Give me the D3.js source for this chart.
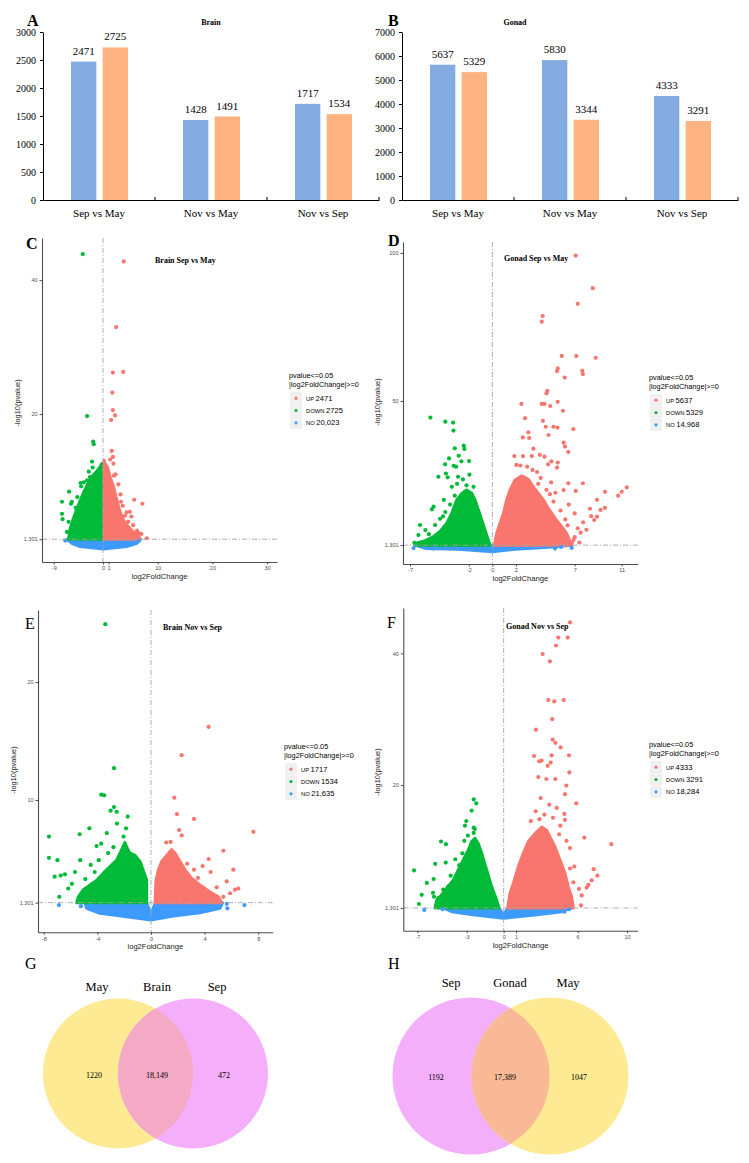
<!DOCTYPE html>
<html>
<head>
<meta charset="utf-8">
<script src="https://cdn.jsdelivr.net/npm/d3@7"></script>
<style>
  body { margin: 0; background: #fff; }
</style>
</head>
<body>
<div id="vis"></div>
<script>
// ---- bar chart data (A, B) ----
const barCategories = ["Sep vs May", "Nov vs May", "Nov vs Sep"];
const barSeries = ["up", "down"];
const brainUp = [2471, 1428, 1717];
const brainDown = [2725, 1491, 1534];
const gonadUp = [5637, 5830, 4333];
const gonadDown = [5329, 3344, 3291];
const brainTicks = [0, 500, 1000, 1500, 2000, 2500, 3000];
const gonadTicks = [0, 1000, 2000, 3000, 4000, 5000, 6000, 7000];

// ---- volcano C: Brain Sep vs May ----
const cXTicks = [-9, 0, 1, 10, 20, 30];
const cYTicks = [1.301, 20, 40];
const cCounts = ["2471", "2725", "20,023"];
const cUpPts = [[3.8,42.8],[2.4,33],[1.8,26.2],[3.7,26.3],[1.7,23.2],[1.8,20.6],[2.2,19.8],[1.5,19.1],[1.6,14.5],[1.8,13.6],[1.3,13.2],[1.9,12.6],[5.7,7.2],[7.2,6.6],[4.9,5.4],[4.3,5.3],[5.2,4.7],[4.6,3.9],[5.5,3.4],[6.2,2.6],[8.0,1.45],[6.5,2.2],[3.2,8.0],[2.8,9.5],[3.6,6.3],[7.0,2.1],[5.9,2.0],[2.3,11.0],[2.0,10.8],[3.3,6.9],[4.0,4.8]];
const cDownPts = [[-3.7,43.9],[-2.9,19.7],[-1.8,15.9],[-1.7,15.5],[-2.0,12.9],[-1.9,12.0],[-7.5,6.9],[-7.5,5.1],[-7.4,4.3],[-6.2,8.4],[-5.7,6.9],[-5.85,6.6],[-4.7,7.6],[-4.0,9.2],[-4.1,9.7],[-3.3,7.2],[-3.1,7.4],[-2.9,10.1],[-2.6,11.4],[-2.4,10.6],[-6.3,3.9],[-4.8,3.7],[-4.2,3.4],[-5.0,6.0],[-6.6,2.4],[-3.5,9.8]];
const cNoPts = [[-6.9,1.1],[6.6,1.1]];
const cUpCloud = [[0.2,1.301],[0.2,13.1],[0.37,12.6],[0.8,12.1],[1.3,10.6],[1.9,9.2],[2.5,7.2],[3.1,5.4],[3.7,4.2],[4.6,3.2],[5.5,2.4],[6.5,1.9],[6.8,1.301]];
const cDownCloud = [[-6.3,1.301],[-6.0,2.9],[-5.3,4.7],[-4.5,6.4],[-3.6,8.2],[-2.9,9.4],[-2.1,10.6],[-1.2,11.4],[-0.55,12.1],[-0.25,12.6],[-0.2,1.301]];
const cNoCloud = [[-6.6,1.301],[6.8,1.301],[6.2,0.7],[4.3,0.2],[0.06,-0.15],[-4.2,0.2],[-5.7,0.7]];

// ---- volcano D: Gonad Sep vs May ----
const dXTicks = [-7, -2, 0, 2, 7, 11];
const dYTicks = [1.301, 50, 100];
const dCounts = ["5637", "5329", "14,968"];
const dUpPts = [[7.09,99.1],[8.54,88.1],[7.26,82.8],[4.28,78.7],[4.2,76.8],[5.9,65.2],[7.14,65.2],[8.79,64.6],[5.56,61.0],[5.5,60.1],[7.65,60.2],[7.7,59.1],[6.15,57.9],[4.68,53.4],[4.6,52.6],[2.47,49.0],[4.2,49.0],[4.43,49.0],[4.92,48.3],[5.56,49.7],[6.0,46.7],[2.78,44.2],[4.3,43.3],[4.54,41.3],[5.19,41.3],[5.53,41.0],[6.89,40.5],[3.06,39.4],[4.77,38.5],[2.59,37.7],[3.13,37.5],[6.06,35.9],[6.18,34.6],[6.46,32.8],[3.49,33.9],[4.03,31.8],[4.43,31.2],[1.87,31.4],[2.61,31.4],[3.35,31.4],[5.02,29.6],[5.56,29.2],[2.04,28.4],[2.38,28.2],[4.74,28.6],[5.5,27.5],[2.96,27.8],[3.41,26.7],[7.7,22.2],[6.46,22.2],[9.58,19.3],[11.43,20.8],[11.0,19.3],[10.7,18.0],[8.9,16.6],[9.58,13.9],[9.2,13.2],[8.3,13.6],[8.9,10.9],[8.66,9.8],[8.4,11.1],[7.72,9.0],[7.26,7.0],[6.75,1.9],[7.09,19.6],[6.06,19.9],[5.36,19.0],[4.1,24.0],[5.0,22.5],[3.8,26.0],[6.5,15.0],[7.0,12.0],[6.2,10.0],[7.5,5.5],[8.0,6.5],[4.6,20.0],[5.2,16.0],[5.8,13.0],[6.4,8.0],[7.0,4.0],[3.9,22.0],[4.9,18.5],[6.9,3.0],[7.4,2.2]];
const dDownPts = [[-5.27,44.4],[-4.0,43.0],[-3.34,42.7],[-3.31,40.0],[-2.43,34.9],[-2.38,33.8],[-3.2,34.0],[-3.68,30.6],[-2.86,31.5],[-2.63,29.6],[-1.98,29.7],[-4.02,28.6],[-3.29,28.1],[-3.09,27.8],[-4.59,24.4],[-3.95,25.5],[-3.8,24.2],[-2.92,24.4],[-2.5,23.5],[-1.95,25.1],[-3.45,21.0],[-4.13,16.6],[-5.0,14.3],[-5.14,13.4],[-6.15,8.1],[-4.87,8.1],[-5.7,6.4],[-6.29,4.7],[-6.63,2.1],[-5.4,5.0],[-4.45,10.2],[-3.0,22.0],[-2.2,21.5],[-4.0,12.5],[-3.6,15.0],[-4.2,11.0],[-1.6,21.0],[-3.2,18.0]];
const dNoPts = [[-6.7,0.3],[-5.0,0.2],[5.33,0.2],[5.85,0.7],[6.75,0.4]];
const dUpCloud = [[0.17,1.301],[0.37,5.3],[0.65,8.7],[0.94,12.1],[1.22,16.6],[1.5,19.9],[1.93,23.3],[2.5,24.7],[3.06,23.5],[3.49,21.0],[3.91,18.8],[4.34,16.6],[4.76,13.7],[5.33,10.4],[5.9,7.5],[6.32,5.3],[6.6,2.5],[6.75,1.301]];
const dDownCloud = [[-0.2,1.301],[-0.34,3.0],[-0.9,9.8],[-1.47,16.6],[-1.75,18.8],[-2.18,19.9],[-2.6,18.8],[-3.03,16.6],[-3.45,12.1],[-3.88,8.7],[-4.45,5.9],[-5.0,4.2],[-5.7,2.8],[-6.57,1.9],[-6.6,1.301]];
const dNoCloud = [[-6.57,1.301],[6.75,1.301],[4.76,0.6],[1.93,-0.1],[0,-0.9],[-2.92,-0.1],[-5.7,0.2]];

// ---- volcano E: Brain Nov vs Sep ----
const eXTicks = [-8, -4, 0, 4, 8];
const eYTicks = [1.301, 10, 20];
const eCounts = ["1717", "1534", "21,635"];
const eUpPts = [[4.3,16.2],[2.29,13.8],[1.74,10.2],[1.94,8.8],[3.21,8.4],[7.64,7.3],[2.1,7.45],[2.29,7.0],[1.47,6.45],[1.14,6.4],[5.4,5.7],[4.3,5.0],[3.85,4.4],[4.45,3.9],[6.14,4.1],[3.21,4.1],[5.65,3.1],[6.27,2.4],[6.51,2.5],[5.9,2.1],[5.4,1.8],[2.7,4.6],[3.5,3.4],[4.9,2.6]];
const eDownPts = [[-3.41,24.9],[-2.76,12.7],[-3.71,10.45],[-3.49,10.4],[-2.76,9.4],[-3.01,9.1],[-2.56,9.0],[-1.74,8.6],[-2.54,8.0],[-7.61,6.9],[-5.32,7.1],[-4.6,7.6],[-3.3,7.2],[-1.86,7.6],[-2.04,6.9],[-3.71,6.3],[-4.06,6.1],[-7.61,5.1],[-6.98,4.9],[-5.28,4.9],[-7.19,3.5],[-6.74,3.6],[-6.42,3.7],[-6.17,2.5],[-6.84,1.8],[-5.67,3.9],[-4.5,4.5],[-3.9,4.9],[-4.9,3.3],[-3.2,5.5],[-2.8,6.0],[-5.9,2.9],[-4.2,3.9]];
const eNoPts = [[-6.87,1.1],[-5.23,1.0],[5.65,1.2],[5.7,0.82],[6.97,1.1]];
const eUpCloud = [[0.3,1.301],[0.37,3.2],[0.55,4.07],[0.8,4.8],[1.17,5.3],[1.54,5.8],[1.79,5.5],[2.16,4.8],[2.54,4.07],[3.04,3.36],[3.66,2.8],[4.4,2.2],[5.02,1.8],[5.28,1.301]];
const eDownCloud = [[-0.32,1.301],[-0.32,3.2],[-0.82,4.8],[-1.19,5.3],[-1.57,5.5],[-1.81,6.0],[-1.94,6.4],[-2.19,5.8],[-2.56,4.9],[-3.06,4.35],[-3.56,3.8],[-4.05,3.2],[-4.55,2.8],[-5.05,2.4],[-5.42,1.8],[-5.55,1.301]];
const eNoCloud = [[-4.93,1.301],[-0.32,1.301],[0,0.34],[0.33,1.301],[5.34,1.301],[5.15,0.82],[3.66,0.45],[1.67,0.17],[0,-0.17],[-1.81,0.11],[-3.81,0.4],[-4.8,0.82]];

// ---- volcano F: Gonad Nov vs Sep ----
const fXTicks = [-7, -3, 0, 1, 6, 10];
const fYTicks = [1.301, 20, 40];
const fCounts = ["4333", "3291", "18,284"];
const fUpPts = [[5.38,44.7],[4.43,42.4],[5.19,42.4],[4.24,41.2],[3.16,39.9],[3.75,38.8],[3.62,32.9],[4.1,32.7],[4.87,32.9],[3.94,30.0],[2.62,28.4],[3.97,26.9],[4.19,26.4],[4.62,25.7],[2.46,24.4],[3.89,24.5],[2.89,23.6],[3.08,23.7],[3.57,22.9],[3.81,23.4],[5.3,24.5],[5.33,21.9],[2.81,21.2],[3.46,20.9],[4.19,20.9],[5.08,19.9],[4.97,18.6],[5.89,17.2],[4.92,15.6],[4.97,14.7],[4.59,13.8],[6.54,12.0],[8.73,11.0],[5.38,10.4],[5.73,7.6],[5.38,7.3],[7.3,7.2],[7.6,6.2],[7.14,5.5],[6.87,4.8],[6.73,4.4],[5.65,5.2],[6.11,4.2],[6.33,3.2],[6.27,1.7],[3.0,18.0],[3.7,17.0],[4.3,16.5],[2.6,16.0],[3.3,15.5],[4.0,15.0],[2.2,14.5],[2.9,14.8],[5.1,11.5],[4.5,12.5]];
const fDownPts = [[-2.43,17.8],[-2.22,17.2],[-2.6,16.1],[-3.03,14.5],[-3.14,13.8],[-2.43,13.5],[-2.33,13.3],[-2.43,12.7],[-5.08,11.4],[-4.68,11.0],[-3.19,11.5],[-3.35,9.6],[-3.92,8.7],[-4.7,8.2],[-5.55,8.0],[-7.27,7.0],[-5.68,5.7],[-6.23,5.1],[-4.03,5.1],[-4.49,4.6],[-6.65,3.3],[-5.73,3.6],[-5.65,3.0],[-5.3,2.8],[-6.87,1.9],[-4.9,4.1],[-2.9,12.3],[-3.6,7.8],[-4.3,6.2]];
const fNoPts = [[-6.44,1.0],[-4.95,1.1],[4.92,0.73],[5.3,1.1]];
const fUpCloud = [[0.32,1.301],[0.51,3.5],[0.78,5.0],[1.19,7.6],[1.59,9.6],[2.0,11.4],[2.54,12.6],[3.08,13.6],[3.49,13.1],[3.75,12.1],[4.16,10.6],[4.57,8.6],[4.97,6.6],[5.24,4.5],[5.51,3.0],[5.65,1.301]];
const fDownCloud = [[-0.38,1.301],[-0.57,2.5],[-0.97,4.5],[-1.38,7.07],[-1.78,9.6],[-2.06,11.1],[-2.33,11.9],[-2.6,11.4],[-2.87,10.1],[-3.28,8.6],[-3.68,7.07],[-4.09,5.5],[-4.62,4.3],[-5.03,3.3],[-5.43,2.5],[-5.57,1.301]];
const fNoCloud = [[-4.9,1.301],[-0.38,1.301],[0,0.23],[0.32,1.301],[5.51,1.301],[4.7,0.73],[2.54,0.23],[-0.03,-0.28],[-2.33,0.23],[-4.22,0.73]];

// ---- venn data (G, H) ----
const vennBrainLabels = ["May", "Brain", "Sep"];
const vennBrainCounts = ["1220", "18,149", "472"];
const vennGonadLabels = ["Sep", "Gonad", "May"];
const vennGonadCounts = ["1192", "17,389", "1047"];

const serif = "'Liberation Serif', 'Times New Roman', serif";
const sans = "'Liberation Sans', Arial, sans-serif";
const barBlue = "#83abe0";
const barOrange = "#fdb381";
const colUp = "#f8766d";
const colDown = "#00ba38";
const colNo = "#3d9bff";

const svg = d3.select("#vis").append("svg")
  .attr("width", 749)
  .attr("height", 1163)
  .style("display", "block");

// panel letters
const letters = [
  ["A", 27, 26, "bold"], ["B", 388, 26, "bold"],
  ["C", 26, 249, "bold"], ["D", 388, 246, "bold"],
  ["E", 25, 629, "normal"], ["F", 387, 628, "normal"],
  ["G", 25, 969, "normal"], ["H", 388, 969, "normal"]
];
letters.forEach(([t, x, y, w]) => {
  svg.append("text").attr("x", x).attr("y", y)
    .style("font-family", serif).style("font-size", "16px").style("font-weight", w)
    .text(t);
});

// ---------- bar charts ----------
function drawBars(cfg) {
  const x0 = d3.scaleBand().domain(barCategories).range([cfg.left, cfg.right]).padding(0);
  const x1 = d3.scaleBand().domain(barSeries).range([28, 85]).paddingInner(0.2);
  const y = d3.scaleLinear().domain([0, cfg.max]).range([200, 32]);
  const g = svg.append("g");

  const rows = [];
  barCategories.forEach((c, i) => {
    rows.push({ cat: c, s: "up", v: cfg.up[i] });
    rows.push({ cat: c, s: "down", v: cfg.down[i] });
  });

  g.selectAll("rect").data(rows).enter().append("rect")
    .attr("x", d => x0(d.cat) + x1(d.s))
    .attr("y", d => y(d.v))
    .attr("width", x1.bandwidth())
    .attr("height", d => y(0) - y(d.v))
    .attr("fill", d => d.s === "up" ? barBlue : barOrange);

  g.selectAll("text.val").data(rows).enter().append("text")
    .attr("class", "val")
    .attr("x", d => x0(d.cat) + x1(d.s) + x1.bandwidth() / 2)
    .attr("y", d => y(d.v) - 7)
    .attr("text-anchor", "middle")
    .style("font-family", serif).style("font-size", "11px")
    .text(d => d.v);

  const ya = g.append("g").attr("transform", `translate(${cfg.left},0)`)
    .call(d3.axisLeft(y).tickValues(cfg.ticks).tickSize(3).tickSizeOuter(0).tickPadding(4).tickFormat(d3.format("d")));
  ya.selectAll("text").style("font-family", serif).style("font-size", "10px").attr("fill", "#000");
  ya.selectAll("line, path").attr("stroke", "#000");

  const xa = g.append("g").attr("transform", "translate(0,200)")
    .call(d3.axisBottom(x0).tickSize(0).tickPadding(9));
  xa.selectAll("text").style("font-family", serif).style("font-size", "11px").attr("fill", "#000");
  xa.select("path").attr("stroke", "#000").attr("stroke-width", 1.2);

  // boundary ticks between categories
  const edges = barCategories.slice(1).map(c => x0(c)).concat([x0.range()[1]]);
  g.selectAll("line.edge").data(edges).enter().append("line")
    .attr("x1", d => d).attr("x2", d => d)
    .attr("y1", 197).attr("y2", 200)
    .attr("stroke", "#000");

  g.append("text").attr("x", cfg.titleX).attr("y", 25)
    .attr("text-anchor", "middle")
    .style("font-family", serif).style("font-size", "8px").style("font-weight", "bold")
    .text(cfg.title);
}

drawBars({ left: 43, right: 379, max: 3000, ticks: brainTicks, up: brainUp, down: brainDown, title: "Brain", titleX: 211 });
drawBars({ left: 402, right: 738, max: 7000, ticks: gonadTicks, up: gonadUp, down: gonadDown, title: "Gonad", titleX: 515 });

// ---------- volcano plots ----------
function drawVolcano(cfg) {
  const x = d3.scaleLinear().domain(cfg.xDomain).range([cfg.left, cfg.right]);
  const y = d3.scaleLinear().domain(cfg.yDomain).range([cfg.bottom, cfg.top]);
  const g = svg.append("g");
  const area = d3.line().x(d => x(d[0])).y(d => y(d[1])).curve(d3.curveLinearClosed);

  [[cfg.noCloud, colNo], [cfg.downCloud, colDown], [cfg.upCloud, colUp]].forEach(([pts, c]) => {
    g.append("path").attr("d", area(pts))
      .attr("fill", c).attr("stroke", c)
      .attr("stroke-width", 3).attr("stroke-linejoin", "round");
  });

  [[cfg.noPts, colNo], [cfg.downPts, colDown], [cfg.upPts, colUp]].forEach(([pts, c]) => {
    g.selectAll(null).data(pts).enter().append("circle")
      .attr("cx", d => x(d[0])).attr("cy", d => y(d[1]))
      .attr("r", 2.1).attr("fill", c);
  });

  // threshold lines
  g.append("line")
    .attr("x1", x(0)).attr("x2", x(0))
    .attr("y1", cfg.top).attr("y2", cfg.bottom)
    .attr("stroke", "#a6a6a6").attr("stroke-width", 0.9)
    .attr("stroke-dasharray", "5,2,1,2");
  g.append("line")
    .attr("x1", cfg.left).attr("x2", cfg.right)
    .attr("y1", y(1.301)).attr("y2", y(1.301))
    .attr("stroke", "#a6a6a6").attr("stroke-width", 0.9)
    .attr("stroke-dasharray", "5,2,1,2");

  const xa = g.append("g").attr("transform", `translate(0,${cfg.bottom})`)
    .call(d3.axisBottom(x).tickValues(cfg.xTicks).tickSize(2.5).tickSizeOuter(0).tickPadding(2).tickFormat(d => d));
  const ya = g.append("g").attr("transform", `translate(${cfg.left},0)`)
    .call(d3.axisLeft(y).tickValues(cfg.yTicks).tickSize(2.5).tickSizeOuter(0).tickPadding(2).tickFormat(d => d));
  [xa, ya].forEach(a => {
    a.selectAll("text").style("font-family", sans).style("font-size", "5.5px").attr("fill", "#4d4d4d");
    a.selectAll("line").attr("stroke", "#4d4d4d");
    a.select("path").attr("stroke", "#4d4d4d").attr("stroke-width", 1.1);
  });

  g.append("text")
    .attr("x", (cfg.left + cfg.right) / 2)
    .attr("y", cfg.bottom + 17)
    .attr("text-anchor", "middle")
    .style("font-family", sans).style("font-size", "7.6px").attr("fill", "#222")
    .text("log2FoldChange");
  g.append("text")
    .attr("transform", `translate(${cfg.yTitleX},${cfg.yTitleY}) rotate(-90)`)
    .attr("text-anchor", "middle")
    .style("font-family", sans).style("font-size", "7.4px").attr("fill", "#222")
    .text("-log10(pvalue)");

  g.append("text").attr("x", cfg.titleX).attr("y", cfg.titleY)
    .style("font-family", serif).style("font-size", "8px").style("font-weight", "bold")
    .text(cfg.title);

  // legend
  const lg = g.append("g").attr("transform", `translate(${cfg.legend[0]},${cfg.legend[1]})`);
  lg.append("text").attr("x", 0).attr("y", 0)
    .style("font-family", sans).style("font-size", "7.3px").text("pvalue<=0.05");
  lg.append("text").attr("x", 0).attr("y", 8.5)
    .style("font-family", sans).style("font-size", "7.3px").text("|log2FoldChange|>=0");
  const keys = [["UP", colUp], ["DOWN", colDown], ["NO", colNo]];
  keys.forEach(([k, c], i) => {
    const ky = 14 + i * 12.3;
    lg.append("rect").attr("x", 1).attr("y", ky).attr("width", 12).attr("height", 12.3).attr("fill", "#f0f0f0");
    lg.append("circle").attr("cx", 7).attr("cy", ky + 6.2).attr("r", 1.6).attr("fill", c);
    const t = lg.append("text").attr("x", 17).attr("y", ky + 8.5).style("font-family", sans);
    t.append("tspan").style("font-size", "5.8px").text(k + " ");
    t.append("tspan").style("font-size", "7.6px").text(cfg.counts[i]);
  });
}

drawVolcano({
  left: 42, right: 277, top: 238, bottom: 562,
  xDomain: [-11.15, 31.8], yDomain: [-2.1, 46.3],
  xTicks: cXTicks, yTicks: cYTicks, counts: cCounts,
  upPts: cUpPts, downPts: cDownPts, noPts: cNoPts,
  upCloud: cUpCloud, downCloud: cDownCloud, noCloud: cNoCloud,
  title: "Brain Sep vs May", titleX: 155, titleY: 263,
  legend: [289, 378], yTitleX: 20, yTitleY: 403
});
drawVolcano({
  left: 403, right: 637.7, top: 242, bottom: 564,
  xDomain: [-7.6, 12.36], yDomain: [-5.07, 103.7],
  xTicks: dXTicks, yTicks: dYTicks, counts: dCounts,
  upPts: dUpPts, downPts: dDownPts, noPts: dNoPts,
  upCloud: dUpCloud, downCloud: dDownCloud, noCloud: dNoCloud,
  title: "Gonad Sep vs May", titleX: 504, titleY: 261,
  legend: [649, 380], yTitleX: 380, yTitleY: 402
});
drawVolcano({
  left: 38, right: 272.7, top: 610, bottom: 932.3,
  xDomain: [-8.43, 9.08], yDomain: [-1.21, 26.1],
  xTicks: eXTicks, yTicks: eYTicks, counts: eCounts,
  upPts: eUpPts, downPts: eDownPts, noPts: eNoPts,
  upCloud: eUpCloud, downCloud: eDownCloud, noCloud: eNoCloud,
  title: "Brain Nov vs Sep", titleX: 163, titleY: 630,
  legend: [284, 749], yTitleX: 16, yTitleY: 770
});
drawVolcano({
  left: 403.3, right: 637.7, top: 608, bottom: 930.7,
  xDomain: [-8.14, 10.87], yDomain: [-2.16, 46.9],
  xTicks: fXTicks, yTicks: fYTicks, counts: fCounts,
  upPts: fUpPts, downPts: fDownPts, noPts: fNoPts,
  upCloud: fUpCloud, downCloud: fDownCloud, noCloud: fNoCloud,
  title: "Gonad Nov vs Sep", titleX: 506, titleY: 629,
  legend: [649, 747], yTitleX: 380, yTitleY: 772
});

// ---------- venn diagrams ----------
function drawVenn(cfg) {
  const g = svg.append("g");
  const [c1, c2] = cfg.cx;
  const r = cfg.r;
  g.append("circle").attr("cx", c1).attr("cy", cfg.cy).attr("r", r).attr("fill", cfg.colors[0]);
  g.append("circle").attr("cx", c2).attr("cy", cfg.cy).attr("r", r).attr("fill", cfg.colors[1]);
  const mx = (c1 + c2) / 2;
  const h = Math.sqrt(r * r - ((c2 - c1) / 2) ** 2);
  g.append("path")
    .attr("d", `M${mx},${cfg.cy - h} A${r},${r} 0 0 1 ${mx},${cfg.cy + h} A${r},${r} 0 0 1 ${mx},${cfg.cy - h}Z`)
    .attr("fill", cfg.colors[2]);

  cfg.labels.forEach((t, i) => {
    g.append("text").attr("x", cfg.labelX[i]).attr("y", cfg.labelY)
      .attr("text-anchor", "middle")
      .style("font-family", serif).style("font-size", "12.5px")
      .text(t);
  });
  cfg.counts.forEach((t, i) => {
    g.append("text").attr("x", cfg.countX[i]).attr("y", cfg.countY)
      .attr("text-anchor", "middle")
      .style("font-family", serif).style("font-size", "8px")
      .text(t);
  });
}

drawVenn({
  cx: [118, 193], cy: 1073.5, r: 75,
  colors: ["#fdea93", "#f5affa", "#f4a9c4"],
  labels: vennBrainLabels, labelX: [97, 157, 217], labelY: 991,
  counts: vennBrainCounts, countX: [94, 157, 224], countY: 1078
});
drawVenn({
  cx: [471, 550], cy: 1076, r: 78.5,
  colors: ["#f4affa", "#fdea93", "#f9b996"],
  labels: vennGonadLabels, labelX: [451, 510, 568], labelY: 987,
  counts: vennGonadCounts, countX: [436, 505, 579], countY: 1080
});
</script>
</body>
</html>
